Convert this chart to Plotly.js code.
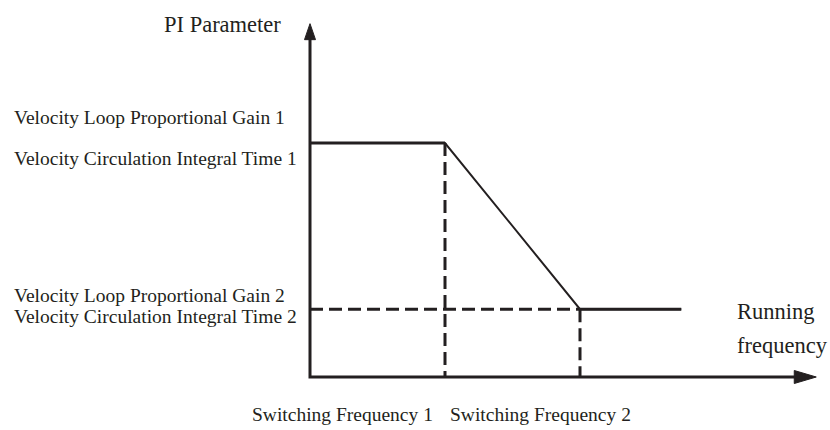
<!DOCTYPE html>
<html>
<head>
<meta charset="utf-8">
<script src="https://cdn.plot.ly/plotly-3.0.1.min.js"></script>
<style>
  html, body { margin: 0; padding: 0; background: #fff; }
  #plot_div { width: 830px; height: 430px; }
</style>
</head>
<body>
<div id="plot_div"></div>
<script>
// PI parameter curve vs running frequency (switching freq units)
const curveFreq  = [0, 1, 2, 2.75];
const curveParam = [10, 10, 2.9, 2.9];
const switchFreq  = [1, 2];
const switchParam = [10, 2.9];
const axisFreqMax  = 3.75;
const axisParamMax = 15.1;

const leftLabels = [
    'Velocity Loop Proportional Gain 1',
    'Velocity Circulation Integral Time 1',
    'Velocity Loop Proportional Gain 2',
    'Velocity Circulation Integral Time 2',
];
const bottomLabels = ['Switching Frequency 1', 'Switching Frequency 2'];
const yTitle = 'PI Parameter';
const xTitle = ['Running', 'frequency'];

// pixel placement of the data origin
const W = 830, H = 430;
const x0px = 310, y0px = 377;
const kx = 135, ky = 23.4;   // px per unit

const ink = '#231f20';
const font = 'Liberation Serif, Times New Roman, serif';

const px2paper = (px, py) => ({x: px / W, y: 1 - py / H});

function arrowHead(x, y, dir, len, wid){
    // filled triangle, tip at (x, y), sizes in px
    const l = dir === 'x' ? len / kx : len / ky;
    const w = dir === 'x' ? (wid / 2) / ky : (wid / 2) / kx;
    if (dir === 'x') return {x: [x, x - l, x - l, x], y: [y, y + w, y - w, y]};
    return {x: [x, x - w, x + w, x], y: [y, y - l, y - l, y]};
}

const dashLine = {color: ink, width: 3, dash: '13px,6px'};
const traces = [
    // dashed guides
    {x: [switchFreq[0], switchFreq[0]], y: [switchParam[0], 0], line: dashLine},
    {x: [0, switchFreq[1]], y: [switchParam[1], switchParam[1]], line: dashLine},
    {x: [switchFreq[1], switchFreq[1]], y: [switchParam[1], 0], line: dashLine},
    // curve: thin slope, heavier plateaus
    {x: curveFreq, y: curveParam, line: {color: ink, width: 2}},
    {x: curveFreq.slice(0, 2), y: curveParam.slice(0, 2), line: {color: ink, width: 3}},
    {x: curveFreq.slice(2), y: curveParam.slice(2), line: {color: ink, width: 3}},
    // axes
    {x: [0, 0, axisFreqMax - 0.05], y: [axisParamMax - 0.3, 0, 0], line: {color: ink, width: 3}},
];
const hx = arrowHead(axisFreqMax, 0, 'x', 22, 13);
const hy = arrowHead(0, axisParamMax, 'y', 16, 11);
[hx, hy].forEach(h => traces.push({x: h.x, y: h.y, fill: 'toself', fillcolor: ink, line: {color: ink, width: 1}}));
traces.forEach(t => { t.type = 'scatter'; t.mode = 'lines'; t.hoverinfo = 'skip'; });

const ann = (text, px, py, size, xanchor) => Object.assign(px2paper(px, py), {
    text, xref: 'paper', yref: 'paper', xanchor, yanchor: 'middle',
    showarrow: false, font: {family: font, size, color: ink},
});

const annotations = [
    ann(yTitle, 283, 24, 22.5, 'right'),
    ann(leftLabels[0], 12, 118, 19.5, 'left'),
    ann(leftLabels[1], 12, 158, 19.5, 'left'),
    ann(leftLabels[2], 12, 295, 19.5, 'left'),
    ann(leftLabels[3], 12, 316, 19.5, 'left'),
    ann(xTitle[0], 735, 311, 22.5, 'left'),
    ann(xTitle[1], 735, 345, 22.5, 'left'),
    ann(bottomLabels[0], 250, 414, 19.5, 'left'),
    ann(bottomLabels[1], 448, 414, 19.5, 'left'),
];

const layout = {
    width: W, height: H,
    margin: {l: 0, r: 0, t: 0, b: 0},
    showlegend: false,
    paper_bgcolor: '#fff',
    plot_bgcolor: '#fff',
    xaxis: {visible: false, range: [-x0px / kx, (W - x0px) / kx], fixedrange: true},
    yaxis: {visible: false, range: [-(H - y0px) / ky, y0px / ky], fixedrange: true},
    annotations,
};

Plotly.newPlot('plot_div', traces, layout, {displayModeBar: false, staticPlot: true});
</script>
</body>
</html>
